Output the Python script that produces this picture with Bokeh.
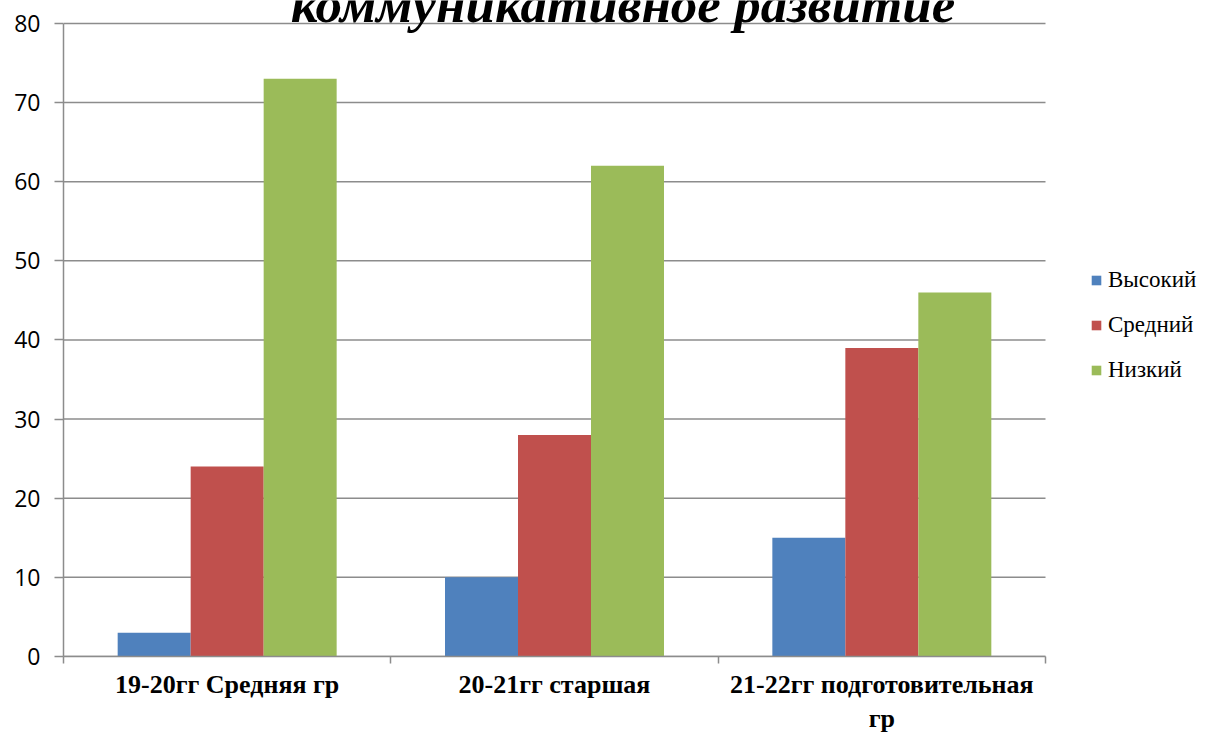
from bokeh.plotting import figure
from bokeh.models import Range1d, FixedTicker, Legend, LegendItem, Label, ColumnDataSource
from bokeh.transform import dodge
from bokeh.embed import file_html
from bokeh.resources import INLINE

categories = ["19-20гг Средняя гр", "20-21гг старшая", "21-22гг подготовительная\nгр"]
series_names = ["Высокий", "Средний", "Низкий"]
vysokiy = [3, 10, 15]
sredniy = [24, 28, 39]
nizkiy = [73, 62, 46]
y_ticks = [0, 10, 20, 30, 40, 50, 60, 70, 80]
title_text = "коммуникативное развитие\""

colors = ["#4F81BD", "#C0504D", "#9BBB59"]

n_cat = len(categories)
y_max = max(y_ticks)
xc = [i + 0.5 for i in range(n_cat)]
src = ColumnDataSource(dict(x=xc, v=vysokiy, s=sredniy, n=nizkiy))

# the frame covers the whole canvas above the x axis and right of the y axis;
# categories use 982 px of it, value axis 0..80 uses 635 px (top 23 px left for the title)
W, H = 1206, 736
left, bottom = 63, 78
cat_px, val_px, top_gap = 982, 635, 23
x_end = n_cat * (W - left) / cat_px
y_end = y_max * (val_px + top_gap) / val_px

p = figure(width=W, height=H, output_backend="svg", toolbar_location=None,
           x_range=Range1d(0, x_end), y_range=Range1d(0, y_end),
           min_border_left=left, min_border_right=0, min_border_top=0, min_border_bottom=bottom)
p.outline_line_color = None
p.background_fill_color = "white"
p.border_fill_color = "white"
p.xgrid.grid_line_color = None
p.ygrid.grid_line_color = None

# horizontal gridlines restricted to the category area
p.segment(x0=0, x1=n_cat, y0=y_ticks, y1=y_ticks, line_color="#8c8c8c", line_width=1.5,
          level="underlay")

bw = 0.223
renderers = []
for col, off, c in zip(["v", "s", "n"], [-bw, 0, bw], colors):
    r = p.vbar(x=dodge("x", off, range=p.x_range), top=col, width=bw, source=src,
               fill_color=c, line_color=None)
    renderers.append(r)

# y axis
p.yaxis.bounds = (0, y_max)
p.yaxis.ticker = FixedTicker(ticks=y_ticks)
p.yaxis.axis_line_color = "#8c8c8c"
p.yaxis.axis_line_width = 1.5
p.yaxis.major_tick_line_color = "#8c8c8c"
p.yaxis.major_tick_line_width = 1.5
p.yaxis.major_tick_out = 9
p.yaxis.major_tick_in = 0
p.yaxis.minor_tick_line_color = None
p.yaxis.major_label_text_font = "Open Sans"
p.yaxis.major_label_text_font_size = "23px"
p.yaxis.major_label_text_color = "black"
p.yaxis.major_label_standoff = 14

# x axis
p.xaxis.bounds = (0, n_cat)
p.xaxis.ticker = FixedTicker(ticks=xc, minor_ticks=list(range(n_cat + 1)))
p.xaxis.major_label_overrides = {x: c for x, c in zip(xc, categories)}
p.xaxis.axis_line_color = "#8c8c8c"
p.xaxis.axis_line_width = 1.5
p.xaxis.major_tick_line_color = None
p.xaxis.major_tick_out = 7
p.xaxis.major_tick_in = 0
p.xaxis.minor_tick_line_color = "#8c8c8c"
p.xaxis.minor_tick_line_width = 1.5
p.xaxis.minor_tick_out = 7
p.xaxis.minor_tick_in = 0
p.xaxis.major_label_text_font = "Liberation Serif"
p.xaxis.major_label_text_font_style = "bold"
p.xaxis.major_label_text_font_size = "26px"
p.xaxis.major_label_text_color = "black"
p.xaxis.major_label_standoff = 6

legend = Legend(items=[LegendItem(label=n, renderers=[r]) for n, r in zip(series_names, renderers)],
                location=(1027, 273), padding=0, margin=0, border_line_color=None,
                background_fill_alpha=0, glyph_width=12, glyph_height=12,
                label_height=24, spacing=19, label_standoff=6,
                label_text_font="Liberation Serif", label_text_font_size="23px",
                label_text_color="black")
p.add_layout(legend, "center")

title = Label(x=1.754, y=82.4, text=title_text, text_align="center", text_baseline="alphabetic",
              text_font="Liberation Serif", text_font_style="bold italic", text_font_size="53px",
              text_color="black")
p.add_layout(title)

open("out.html", "w").write(file_html(p, INLINE))
